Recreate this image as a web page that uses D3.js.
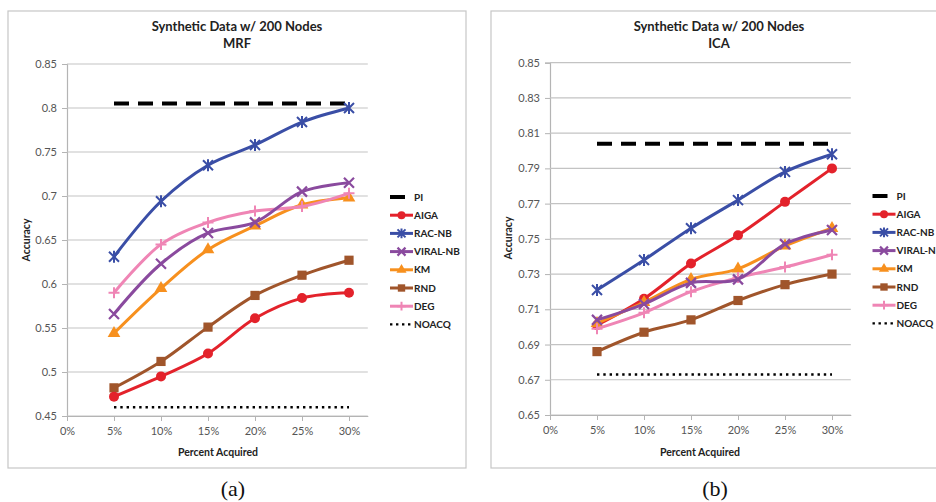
<!DOCTYPE html>
<html>
<head>
<meta charset="utf-8">
<script src="https://cdn.jsdelivr.net/npm/d3@7"></script>
<style>
  body { margin: 0; background: #fff; }
  svg { display: block; }
</style>
</head>
<body>
<svg id="chart" width="936" height="502"></svg>
<script>
// ---- data ----
const xValues = [0.05, 0.10, 0.15, 0.20, 0.25, 0.30];
const xTickValues = [0, 0.05, 0.10, 0.15, 0.20, 0.25, 0.30];
const xTickLabels = ["0%", "5%", "10%", "15%", "20%", "25%", "30%"];
const seriesNames = ["PI", "AIGA", "RAC-NB", "VIRAL-NB", "KM", "RND", "DEG", "NOACQ"];

const mrfYTicks = [0.45, 0.50, 0.55, 0.60, 0.65, 0.70, 0.75, 0.80, 0.85];
const mrfYTickLabels = ["0.45", "0.5", "0.55", "0.6", "0.65", "0.7", "0.75", "0.8", "0.85"];
const icaYTicks = [0.65, 0.67, 0.69, 0.71, 0.73, 0.75, 0.77, 0.79, 0.81, 0.83, 0.85];
const icaYTickLabels = ["0.65", "0.67", "0.69", "0.71", "0.73", "0.75", "0.77", "0.79", "0.81", "0.83", "0.85"];

// MRF panel
const mrfPI     = [0.805, 0.805, 0.805, 0.805, 0.805, 0.805];
const mrfAIGA   = [0.472, 0.495, 0.521, 0.561, 0.584, 0.590];
const mrfRACNB  = [0.631, 0.694, 0.735, 0.758, 0.784, 0.800];
const mrfVIRAL  = [0.566, 0.623, 0.658, 0.670, 0.705, 0.715];
const mrfKM     = [0.544, 0.595, 0.639, 0.666, 0.690, 0.698];
const mrfRND    = [0.482, 0.512, 0.551, 0.587, 0.610, 0.627];
const mrfDEG    = [0.590, 0.645, 0.670, 0.683, 0.688, 0.703];
const mrfNOACQ  = [0.460, 0.460, 0.460, 0.460, 0.460, 0.460];

// ICA panel
const icaPI     = [0.804, 0.804, 0.804, 0.804, 0.804, 0.804];
const icaAIGA   = [0.701, 0.716, 0.736, 0.752, 0.771, 0.790];
const icaRACNB  = [0.721, 0.738, 0.756, 0.772, 0.788, 0.798];
const icaVIRAL  = [0.704, 0.713, 0.725, 0.727, 0.747, 0.755];
const icaKM     = [0.702, 0.714, 0.727, 0.733, 0.746, 0.756];
const icaRND    = [0.686, 0.697, 0.704, 0.715, 0.724, 0.730];
const icaDEG    = [0.699, 0.708, 0.720, 0.728, 0.734, 0.741];
const icaNOACQ  = [0.673, 0.673, 0.673, 0.673, 0.673, 0.673];

// ---- styling per series ----
const seriesStyle = {
  "PI":       { color: "#000000", width: 4,   dash: "15,9",    marker: null },
  "AIGA":     { color: "#e3222b", width: 3,   dash: null,      marker: "circle" },
  "RAC-NB":   { color: "#3a4ea6", width: 3,   dash: null,      marker: "star" },
  "VIRAL-NB": { color: "#8a4a9e", width: 3,   dash: null,      marker: "cross" },
  "KM":       { color: "#f7901e", width: 3,   dash: null,      marker: "triangle" },
  "RND":      { color: "#a0552b", width: 3,   dash: null,      marker: "square" },
  "DEG":      { color: "#ef85b5", width: 3,   dash: null,      marker: "plus" },
  "NOACQ":    { color: "#000000", width: 2.4, dash: "2.4,3.9", marker: null }
};

const svg = d3.select("#chart");
const FONT = "Lato, 'Open Sans', sans-serif";

function drawMarker(g, type, x, y, color, s) {
  s = s || 1;
  if (type === "circle") {
    g.append("circle").attr("cx", x).attr("cy", y).attr("r", 5 * s).attr("fill", color);
  } else if (type === "square") {
    g.append("rect").attr("x", x - 4.6 * s).attr("y", y - 4.6 * s)
      .attr("width", 9.2 * s).attr("height", 9.2 * s).attr("fill", color);
  } else if (type === "triangle") {
    g.append("path").attr("transform", `translate(${x},${y})`)
      .attr("d", d3.symbol(d3.symbolTriangle, 70 * s * s)()).attr("fill", color);
  } else if (type === "star") {
    const r = 5 * s;
    g.append("path")
      .attr("d", `M${x - r},${y - r}L${x + r},${y + r}M${x - r},${y + r}L${x + r},${y - r}M${x},${y - r * 1.2}L${x},${y + r * 1.2}`)
      .attr("stroke", color).attr("stroke-width", 2).attr("fill", "none");
  } else if (type === "cross") {
    const r = 5 * s;
    g.append("path")
      .attr("d", `M${x - r},${y - r}L${x + r},${y + r}M${x - r},${y + r}L${x + r},${y - r}`)
      .attr("stroke", color).attr("stroke-width", 2.2).attr("fill", "none");
  } else if (type === "plus") {
    const r = 5.5 * s;
    g.append("path")
      .attr("d", `M${x - r},${y}H${x + r}M${x},${y - r}V${y + r}`)
      .attr("stroke", color).attr("stroke-width", 2).attr("fill", "none");
  }
}

function drawPanel(p) {
  const root = svg.append("g");

  // frame
  root.append("rect").attr("x", p.frame[0]).attr("y", p.frame[1])
    .attr("width", p.frame[2]).attr("height", p.frame[3])
    .attr("fill", "#fff").attr("stroke", "#c6c6c6").attr("stroke-width", 1.2);

  const x = d3.scaleLinear().domain([0, 0.32]).range(p.xRange);
  const y = d3.scaleLinear().domain(p.yDomain).range(p.yRange);

  // horizontal gridlines + y axis
  const yAxis = d3.axisLeft(y).tickValues(p.yTicks)
    .tickFormat((d, i) => p.yLabels[i]).tickSize(5).tickPadding(5);
  const ya = root.append("g").attr("transform", `translate(${p.xRange[0]},0)`).call(yAxis);
  ya.select(".domain").attr("stroke", "#b4b4b4").attr("stroke-width", 1.2);
  ya.selectAll(".tick line").attr("stroke", "#b4b4b4");
  ya.selectAll(".tick text").attr("font-family", FONT).attr("font-size", 11).attr("fill", "#555");

  root.append("g").selectAll("line").data(p.yTicks).join("line")
    .attr("x1", p.xRange[0]).attr("x2", p.xRange[1])
    .attr("y1", d => y(d)).attr("y2", d => y(d))
    .attr("stroke", "#c3c3c3").attr("stroke-width", 1.2);

  // x axis
  const xAxis = d3.axisBottom(x).tickValues(xTickValues)
    .tickFormat((d, i) => xTickLabels[i]).tickSize(5).tickPadding(6).tickSizeOuter(0);
  const xa = root.append("g").attr("transform", `translate(0,${p.yRange[0]})`).call(xAxis);
  xa.select(".domain").attr("stroke", "#b4b4b4").attr("stroke-width", 1.2);
  xa.selectAll(".tick line").attr("stroke", "#b4b4b4");
  xa.selectAll(".tick text").attr("font-family", FONT).attr("font-size", 11).attr("fill", "#555");

  // titles
  const tx = p.titleX;
  root.append("text").attr("x", tx).attr("y", 31).attr("text-anchor", "middle")
    .attr("font-family", FONT).attr("font-weight", "bold").attr("font-size", 13).attr("fill", "#222")
    .text("Synthetic Data w/ 200 Nodes");
  root.append("text").attr("x", tx).attr("y", 48).attr("text-anchor", "middle")
    .attr("font-family", FONT).attr("font-weight", "bold").attr("font-size", 13).attr("fill", "#222")
    .text(p.subtitle);
  root.append("text").attr("x", p.xLabelX).attr("y", 456).attr("text-anchor", "middle")
    .attr("font-family", FONT).attr("font-weight", "bold").attr("font-size", 10.5).attr("fill", "#222")
    .text("Percent Acquired");
  root.append("text").attr("transform", `translate(${p.yLabelX},${p.yLabelY}) rotate(-90)`)
    .attr("text-anchor", "middle")
    .attr("font-family", FONT).attr("font-weight", "bold").attr("font-size", 10.5).attr("fill", "#222")
    .text("Accuracy");

  // series
  const line = d3.line().x((d, i) => x(xValues[i])).y(d => y(d)).curve(d3.curveCatmullRom.alpha(0.5));
  const order = ["NOACQ", "PI", "RND", "AIGA", "KM", "DEG", "VIRAL-NB", "RAC-NB"];
  order.forEach(name => {
    const st = seriesStyle[name];
    const vals = p.series[name];
    const g = root.append("g");
    g.append("path").attr("d", (st.dash ? d3.line().x((d, i) => x(xValues[i])).y(d => y(d)) : line)(vals))
      .attr("fill", "none").attr("stroke", st.color).attr("stroke-width", st.width)
      .attr("stroke-dasharray", st.dash).attr("stroke-linejoin", "round");
    if (st.marker) vals.forEach((v, i) => drawMarker(g, st.marker, x(xValues[i]), y(v), st.color, 1));
  });

  // legend
  seriesNames.forEach((name, i) => {
    const st = seriesStyle[name];
    const ly = p.legendY + i * 18.2;
    const lx = p.legendX;
    const g = root.append("g");
    if (name === "PI") {
      g.append("line").attr("x1", lx).attr("x2", lx + 15).attr("y1", ly).attr("y2", ly)
        .attr("stroke", st.color).attr("stroke-width", 4);
    } else if (name === "NOACQ") {
      g.append("line").attr("x1", lx).attr("x2", lx + 22).attr("y1", ly).attr("y2", ly)
        .attr("stroke", st.color).attr("stroke-width", 2.4).attr("stroke-dasharray", "2.4,3.6");
    } else {
      g.append("line").attr("x1", lx).attr("x2", lx + 23).attr("y1", ly).attr("y2", ly)
        .attr("stroke", st.color).attr("stroke-width", 3);
      drawMarker(g, st.marker, lx + 11.5, ly, st.color, 0.8);
    }
    g.append("text").attr("x", lx + 24).attr("y", ly + 3.6)
      .attr("font-family", FONT).attr("font-weight", "bold").attr("font-size", 10).attr("fill", "#222")
      .text(name);
  });

  // sub-figure label
  svg.append("text").attr("x", p.subX).attr("y", 496).attr("text-anchor", "middle")
    .attr("font-family", "'Liberation Serif', 'DejaVu Serif', serif").attr("font-size", 22).attr("fill", "#111")
    .text(p.subLabel);
}

drawPanel({
  frame: [8, 11, 458, 457],
  xRange: [67, 367.8],
  yDomain: [0.45, 0.85], yRange: [416, 64],
  yTicks: mrfYTicks, yLabels: mrfYTickLabels,
  subtitle: "MRF", titleX: 237, xLabelX: 218, yLabelX: 30, yLabelY: 240,
  legendX: 390, legendY: 197,
  subLabel: "(a)", subX: 233,
  series: { "PI": mrfPI, "AIGA": mrfAIGA, "RAC-NB": mrfRACNB, "VIRAL-NB": mrfVIRAL,
            "KM": mrfKM, "RND": mrfRND, "DEG": mrfDEG, "NOACQ": mrfNOACQ }
});

drawPanel({
  frame: [491, 11, 470, 457],
  xRange: [550, 850.8],
  yDomain: [0.65, 0.85], yRange: [415, 62.7],
  yTicks: icaYTicks, yLabels: icaYTickLabels,
  subtitle: "ICA", titleX: 719, xLabelX: 700, yLabelX: 512, yLabelY: 238,
  legendX: 872.5, legendY: 196,
  subLabel: "(b)", subX: 715,
  series: { "PI": icaPI, "AIGA": icaAIGA, "RAC-NB": icaRACNB, "VIRAL-NB": icaVIRAL,
            "KM": icaKM, "RND": icaRND, "DEG": icaDEG, "NOACQ": icaNOACQ }
});
</script>
</body>
</html>
